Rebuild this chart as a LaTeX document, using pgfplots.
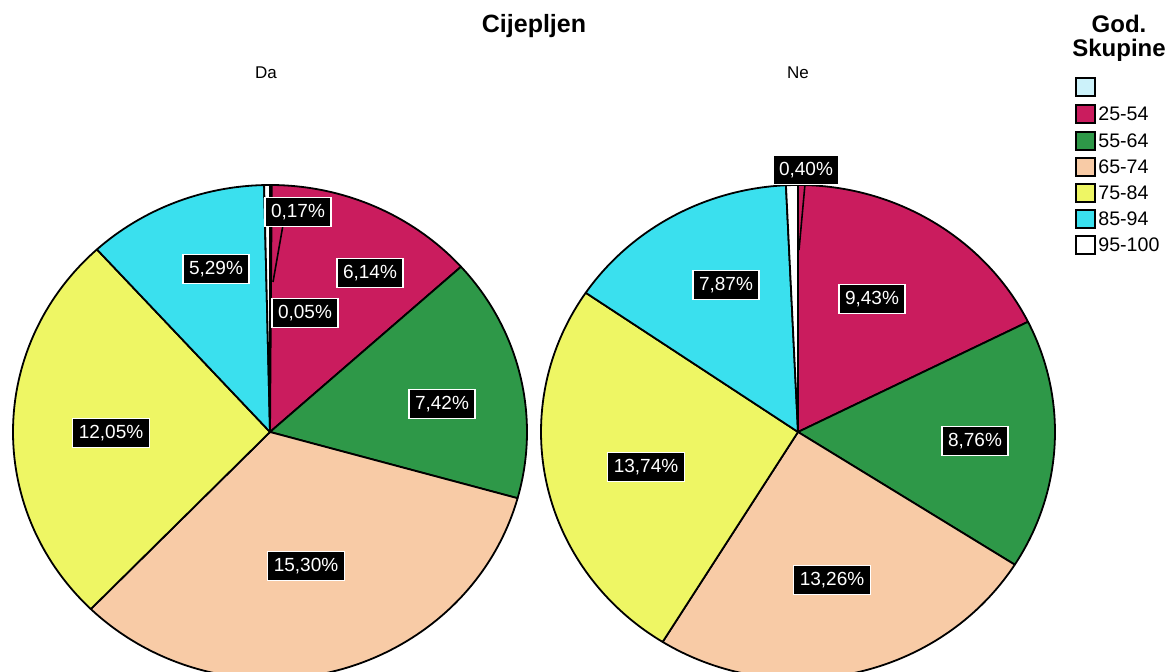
\documentclass[border=0pt]{standalone}
\usepackage{pgfplots}
\pgfplotsset{compat=1.18}
\usepackage{pgfplotstable}
\usepackage{fontspec}
\setmainfont{Liberation Sans}

\definecolor{pc0}{RGB}{204,242,250}
\definecolor{pc1}{RGB}{202,28,94}
\definecolor{pc2}{RGB}{46,152,72}
\definecolor{pc3}{RGB}{248,203,166}
\definecolor{pc4}{RGB}{238,246,100}
\definecolor{pc5}{RGB}{58,224,238}
\definecolor{pc6}{RGB}{255,255,255}

% shares of all respondents (%) per age group, for Cijepljen = Da / Ne
\pgfplotstableread{
idx da ne
0 0.05 0.00
1 6.14 9.43
2 7.42 8.76
3 15.30 13.26
4 12.05 13.74
5 5.29 7.87
6 0.17 0.40
}\piedata

% compute slice angles (clockwise from 12 o'clock) from the table
\newcommand\ComputePie[1]{%
  \gdef\pietotal{0}%
  \foreach \i in {0,1,2,3,4,5,6}{%
    \pgfplotstablegetelem{\i}{#1}\of\piedata
    \edef\tmpv{\pgfplotsretval}%
    \pgfmathparse{\pietotal+\tmpv}%
    \xdef\pietotal{\pgfmathresult}%
  }%
  \gdef\piecum{0}%
  \foreach \i in {0,1,2,3,4,5,6}{%
    \pgfplotstablegetelem{\i}{#1}\of\piedata
    \edef\tmpv{\pgfplotsretval}%
    \pgfmathparse{90-(\piecum/\pietotal)*360}\let\tmpa\pgfmathresult
    \pgfmathparse{\piecum+\tmpv}\xdef\piecum{\pgfmathresult}%
    \pgfmathparse{90-(\piecum/\pietotal)*360}\let\tmpb\pgfmathresult
    \pgfmathparse{cos(\tmpa)}\let\tmpx\pgfmathresult
    \pgfmathparse{sin(\tmpa)}\let\tmpy\pgfmathresult
    \expandafter\xdef\csname #1A\i\endcsname{\tmpa}%
    \expandafter\xdef\csname #1B\i\endcsname{\tmpb}%
    \expandafter\xdef\csname #1X\i\endcsname{\tmpx}%
    \expandafter\xdef\csname #1Y\i\endcsname{\tmpy}%
  }%
}
\ComputePie{da}
\ComputePie{ne}

% axis unit: 1 px = 0.5pt (588pt / 1176); pie radii 257 x 247 px
\newcommand\DrawPie[3]{%
  \pgfplotsinvokeforeach{0,1,2,3,4,5,6}{%
    \edef\cmd{\noexpand\filldraw[fill=pc##1, draw=black, line width=0.9pt, line join=round]
      (axis cs:#2,#3) -- ++(\csname #1X##1\endcsname*128.5pt,\csname #1Y##1\endcsname*123.5pt)
      arc[start angle=\csname #1A##1\endcsname, end angle=\csname #1B##1\endcsname,
          x radius=128.5pt, y radius=123.5pt] -- cycle;}%
    \cmd
  }%
}

\tikzset{
  plabel/.style={fill=black, text=white, draw=white, line width=0.6pt,
    inner xsep=3pt, inner ysep=3.1pt, text height=6.8pt, text depth=1.6pt,
    font=\fontsize{9.5}{11}\selectfont},
  lbox/.style={draw=black, line width=0.9pt},
  ltext/.style={anchor=west, font=\fontsize{9.8}{11}\selectfont, inner sep=0pt}
}

\begin{document}
\begin{tikzpicture}
\begin{axis}[
  scale only axis, width=588pt, height=336pt,
  xmin=0, xmax=1176, ymin=-672, ymax=0,
  hide axis, clip=true
]
\path (axis cs:0,-672) rectangle (axis cs:1176,0);

\DrawPie{da}{270}{-432}
\DrawPie{ne}{798}{-432}

% leader lines
\draw[black, line width=0.8pt] (axis cs:283,-225) -- (axis cs:273,-282);
\draw[black, line width=0.8pt] (axis cs:805,-184) -- (axis cs:799,-250);

% slice labels
\node[plabel] at (axis cs:298,-212) {0,17\%};
\node[plabel] at (axis cs:305,-313) {0,05\%};
\node[plabel] at (axis cs:370,-273) {6,14\%};
\node[plabel] at (axis cs:442,-404) {7,42\%};
\node[plabel] at (axis cs:306,-566) {15,30\%};
\node[plabel] at (axis cs:111,-433) {12,05\%};
\node[plabel] at (axis cs:216,-269) {5,29\%};

\node[plabel] at (axis cs:806,-170) {0,40\%};
\node[plabel] at (axis cs:872,-299) {9,43\%};
\node[plabel] at (axis cs:975,-441) {8,76\%};
\node[plabel] at (axis cs:832,-580) {13,26\%};
\node[plabel] at (axis cs:646,-467) {13,74\%};
\node[plabel] at (axis cs:726,-285) {7,87\%};

% titles
\node[anchor=base, font=\fontsize{12.5}{14}\selectfont\bfseries, inner sep=0pt] at (axis cs:534,-33) {Cijepljen};
\node[anchor=base, font=\fontsize{8.5}{10}\selectfont, inner sep=0pt] at (axis cs:266,-79) {Da};
\node[anchor=base, font=\fontsize{8.5}{10}\selectfont, inner sep=0pt] at (axis cs:798,-79) {Ne};

% legend
\node[anchor=base, font=\fontsize{12}{14}\selectfont\bfseries, inner sep=0pt] at (axis cs:1119,-33) {God.};
\node[anchor=base, font=\fontsize{12}{14}\selectfont\bfseries, inner sep=0pt] at (axis cs:1119,-57) {Skupine};
\filldraw[lbox, fill=pc0] (axis cs:1076,-78) rectangle (axis cs:1095,-96);
\filldraw[lbox, fill=pc1] (axis cs:1076,-105) rectangle (axis cs:1095,-123);
\filldraw[lbox, fill=pc2] (axis cs:1076,-132) rectangle (axis cs:1095,-150);
\filldraw[lbox, fill=pc3] (axis cs:1076,-158) rectangle (axis cs:1095,-176);
\filldraw[lbox, fill=pc4] (axis cs:1076,-184) rectangle (axis cs:1095,-202);
\filldraw[lbox, fill=pc5] (axis cs:1076,-210) rectangle (axis cs:1095,-228);
\filldraw[lbox, fill=pc6] (axis cs:1076,-236) rectangle (axis cs:1095,-254);
\node[ltext] at (axis cs:1098,-114) {25-54};
\node[ltext] at (axis cs:1098,-141) {55-64};
\node[ltext] at (axis cs:1098,-167) {65-74};
\node[ltext] at (axis cs:1098,-193) {75-84};
\node[ltext] at (axis cs:1098,-219) {85-94};
\node[ltext] at (axis cs:1098,-245) {95-100};
\end{axis}
\end{tikzpicture}
\end{document}
